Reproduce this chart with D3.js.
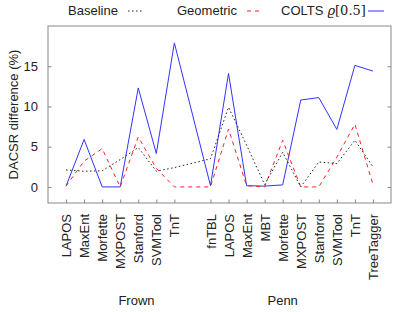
<!DOCTYPE html>
<html>
<head>
<meta charset="utf-8">
<script src="https://cdn.jsdelivr.net/npm/d3@7"></script>
<style>
  body { margin: 0; background: #fff; }
  text { font-family: "Liberation Sans", Arial, sans-serif; fill: #222; }
</style>
</head>
<body>
<div id="chart"></div>
<script>
// taggers per corpus, slot 8 is left empty between groups
var frownTaggers = ["LAPOS", "MaxEnt", "Morfette", "MXPOST", "Stanford", "SVMTool", "TnT"];
var pennTaggers = ["fnTBL", "LAPOS", "MaxEnt", "MBT", "Morfette", "MXPOST", "Stanford", "SVMTool", "TnT", "TreeTagger"];
var groupNames = ["Frown", "Penn"];

var baseline  = [2.1, 1.95, 2.0, 3.4, 4.9, 1.95, 2.4,   3.5, 9.9, 5.2, 0.3, 4.3, 0.0, 3.1, 2.9, 5.8, 2.5];
var geometric = [0.1, 3.2, 4.75, 0.0, 6.2, 2.3, 0.0,    0.0, 7.2, 0.15, 0.0, 5.8, 0.0, 0.0, 3.7, 7.8, 0.3];
var colts     = [0.1, 5.9, 0.0, 0.0, 12.3, 4.15, 17.9,  0.15, 14.1, 0.15, 0.1, 0.25, 10.8, 11.1, 7.15, 15.1, 14.4];

var yTicks = [0, 5, 10, 15];

function init(){
  var w = 415, h = 312;
  var margin = {left: 48, right: 24, top: 26, bottom: 109};

  var svg = d3.select("#chart").append("svg")
      .attr("width", w)
      .attr("height", h);

  // slot positions: Frown at 1..7, Penn at 9..18
  var slots = [];
  frownTaggers.forEach(function(t, i){ slots.push({name: t, pos: i + 1}); });
  pennTaggers.forEach(function(t, i){ slots.push({name: t, pos: i + 9}); });

  var x = d3.scaleLinear().domain([0, 19]).range([margin.left, w - margin.right]);
  var y = d3.scaleLinear().domain([-2, 20]).range([h - margin.bottom, margin.top]);

  var x0 = x.range()[0], x1 = x.range()[1];
  var y0 = y.range()[0], y1 = y.range()[1];

  // y axis with ticks on both sides
  var left = svg.append("g").attr("transform", "translate(" + x0 + ",0)")
      .call(d3.axisLeft(y).tickValues(yTicks).tickSizeInner(-3.5).tickSizeOuter(0).tickPadding(10));
  var right = svg.append("g").attr("transform", "translate(" + x1 + ",0)")
      .call(d3.axisRight(y).tickValues(yTicks).tickSizeInner(-3.5).tickSizeOuter(0).tickFormat(""));
  var bottom = svg.append("g").attr("transform", "translate(0," + y0 + ")")
      .call(d3.axisBottom(x).tickValues(slots.map(function(d){ return d.pos; }))
        .tickSizeInner(-3.5).tickSizeOuter(0)
        .tickFormat(function(v){ return slots.find(function(s){ return s.pos === v; }).name; }));

  [left, right, bottom].forEach(function(g){
    g.select(".domain").remove();
    g.selectAll("line").attr("stroke", "#888");
    g.selectAll("text").style("font-size", "13px").attr("fill", "#222")
      .style("font-family", "'Liberation Sans', Arial, sans-serif");
  });

  bottom.selectAll("text")
      .attr("transform", "rotate(-90)")
      .attr("text-anchor", "end")
      .attr("x", -11)
      .attr("y", 0)
      .attr("dy", "0.35em");

  // frame
  svg.append("rect")
      .attr("x", x0).attr("y", y1)
      .attr("width", x1 - x0).attr("height", y0 - y1)
      .attr("fill", "none").attr("stroke", "#888").attr("stroke-width", 1);

  var line = d3.line()
      .x(function(d, i){ return x(slots[i].pos); })
      .y(function(d){ return y(d); });

  var series = [
    {data: colts, color: "#3333ff", dash: null},
    {data: geometric, color: "#ff2020", dash: "4,4"},
    {data: baseline, color: "#222", dash: "1.5,2.5"}
  ];

  series.forEach(function(s){
    svg.append("path")
        .datum(s.data)
        .attr("d", line)
        .attr("fill", "none")
        .attr("stroke", s.color)
        .attr("stroke-width", 1)
        .attr("stroke-dasharray", s.dash);
  });

  // y label
  svg.append("text")
      .attr("transform", "translate(18," + ((y0 + y1) / 2) + ") rotate(-90)")
      .attr("text-anchor", "middle")
      .style("font-size", "13px")
      .text("DACSR difference (%)");

  // group labels
  svg.append("text")
      .attr("x", x(4.9)).attr("y", 305)
      .attr("text-anchor", "middle").style("font-size", "13px")
      .text(groupNames[0]);
  svg.append("text")
      .attr("x", x(13)).attr("y", 305)
      .attr("text-anchor", "middle").style("font-size", "13px")
      .text(groupNames[1]);

  // legend
  var legend = [
    {label: "Baseline", tx: 68, lx: 128, color: "#222", dash: "1.5,2.5"},
    {label: "Geometric", tx: 177, lx: 247, color: "#ff2020", dash: "4,4"},
    {label: "COLTS", tx: 281, lx: 368, color: "#3333ff", dash: null}
  ];
  legend.forEach(function(l){
    var t = svg.append("text")
        .attr("x", l.tx).attr("y", 15)
        .style("font-size", "13px")
        .text(l.label);
    if (l.label === "COLTS") {
      t.append("tspan").attr("dx", 4)
        .style("font-family", "'DejaVu Serif', serif")
        .style("font-style", "italic")
        .text("ϱ");
      t.append("tspan")
        .style("font-family", "'DejaVu Serif', serif")
        .text("[0.5]");
    }
    svg.append("line")
        .attr("x1", l.lx).attr("x2", l.lx + 16)
        .attr("y1", 11).attr("y2", 11)
        .attr("stroke", l.color)
        .attr("stroke-width", 1)
        .attr("stroke-dasharray", l.dash);
  });
}
window.onload = init;
</script>
</body>
</html>
